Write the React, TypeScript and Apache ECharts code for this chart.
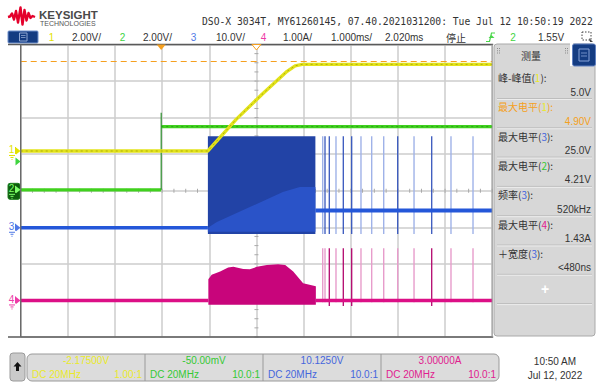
import React, { useEffect, useRef } from "react";
import * as echarts from "echarts";

// ---------- scope settings ----------
const TIME_PER_DIV = 1.0; // ms / div
const TIME_DELAY = 2.02; // ms at screen centre
const X_DIVS = 10;
const Y_DIVS = 8;

const chNames = ["1", "2", "3", "4"];
const chUnitsPerDiv = [2.0, 2.0, 10.0, 1.0];
const chOffsets = [-2.175, -0.05, 10.125, 3.0];
const chScaleLabels = ["2.00V/", "2.00V/", "10.0V/", "1.00A/"];
const chOffsetLabels = ["-2.17500V", "-50.00mV", "10.1250V", "3.00000A"];
const chCouplingLabels = ["DC 20MHz", "DC 20MHz", "DC 20MHz", "DC 20MHz"];
const chProbeLabels = ["1.00:1", "10.0:1", "10.0:1", "10.0:1"];

const headerLabel = "DSO-X 3034T, MY61260145, 07.40.2021031200: Tue Jul 12 10:50:19 2022";
const timebaseLabel = "1.000ms/";
const delayLabel = "2.020ms";
const runStateLabel = "停止";
const trigSourceLabel = "2";
const trigLevel = 1.55;
const trigLevelLabel = "1.55V";
const clockLines = ["10:50 AM", "Jul 12, 2022"];

// ---------- measurements ----------
const measNames = ["峰-峰值", "最大电平", "最大电平", "最大电平", "频率", "最大电平", "＋宽度"];
const measChannels = [1, 1, 3, 2, 3, 4, 3];
const measValues = ["5.0V", "4.90V", "25.0V", "4.21V", "520kHz", "1.43A", "<480ns"];
const ch1MaxCursor = 4.9;

// ---------- traces (time in ms, values in V / A) ----------
// CH1 yellow
const ch1Time = [-2.98, 0.99, 1.59, 2.14, 2.67, 2.84, 2.99, 7.02];
const ch1Volt = [0, 0, 1.73, 3.1, 4.36, 4.66, 4.74, 4.74];
// CH2 green
const ch2LowTime = [-2.98, 0.0];
const ch2LowVolt = [0, 0];
const ch2HighTime = [0.0, 7.02];
const ch2HighVolt = [3.46, 3.46];
const ch2EdgePeak = 4.21;
// CH3 blue
const ch3BeforeTime = [-2.98, 0.99];
const ch3BeforeVolt = [0, 0];
const ch3AfterTime = [3.27, 7.02];
const ch3AfterVolt = [4.75, 4.75];
const ch3BurstStart = 0.99;
const ch3BurstEnd = 3.27;
const ch3BurstHigh = 25.0;
const ch3BurstLow = -1.7;
const ch3AvgTime = [0.99, 1.18, 1.88, 2.58, 2.94, 3.27];
const ch3AvgVolt = [0, 1.57, 5.67, 9.78, 11.15, 11.15];
const ch3SpikeStrong = [3.474, 3.565, 3.862, 4.04, 5.016, 5.737];
const ch3SpikeFaint = [3.425, 3.707, 4.237, 4.464, 4.719, 5.362, 6.146, 6.613];
// CH4 magenta
const ch4BeforeTime = [-2.98, 1.0];
const ch4BeforeAmp = [0, 0];
const ch4AfterTime = [3.28, 7.02];
const ch4AfterAmp = [0, 0];
const ch4EnvTime = [1.0, 1.07, 1.25, 1.42, 1.53, 1.74, 1.88, 2.03, 2.24, 2.48, 2.63, 2.8, 3.01, 3.28];
const ch4EnvAmp = [0.58, 0.7, 0.79, 0.9, 0.92, 0.86, 0.85, 0.92, 0.97, 0.99, 0.97, 0.79, 0.47, 0.39];
const ch4EnvLow = -0.12;
const ch4SpikePeak = 1.43;
const ch4SpikeStrong = [3.565, 3.862, 4.04, 5.737];
const ch4SpikeFaint = [3.425, 3.474, 3.707, 4.237, 4.464, 4.719, 5.016, 5.362, 6.146, 6.613];

// ---------- colours ----------
const TRACE = ["#e3e31b", "#40d11e", "#2457d9", "#dc0f86"];
const LABEL = ["#e2e200", "#3fd43f", "#4f78e6", "#ee3aa6"];
const LABEL_ON_GRAY = ["#eaea2a", "#34c934", "#4466dd", "#e0208f"];
const ORANGE = "#f5a020";
const FONT = '"Liberation Sans", Arial, sans-serif';
const CJK = '"Noto Sans CJK SC", "Liberation Sans", sans-serif';

const xd = (t: number) => (t - TIME_DELAY) / TIME_PER_DIV + X_DIVS / 2;
const yd = (ch: number, v: number) => (v - chOffsets[ch]) / chUnitsPerDiv[ch];
const pts = (ch: number, ts: number[], vs: number[]) => ts.map((t, i) => [xd(t), yd(ch, vs[i])]);

function lineSeries(data: number[][], color: string, width: number, extra: any = {}) {
  return {
    type: "line",
    data,
    showSymbol: false,
    silent: true,
    animation: false,
    lineStyle: { color, width, cap: "butt", join: "round" },
    ...extra,
  };
}

function polySeries(points: () => number[][], color: string) {
  return {
    type: "custom",
    silent: true,
    clip: true,
    data: [[0, 0]],
    renderItem: (_p: any, api: any) => ({
      type: "polygon",
      shape: { points: points().map((p) => api.coord(p)) },
      style: { fill: color },
    }),
  };
}

function spikeSeries(ch: number, times: number[], top: number, bottom: number, color: string, width: number) {
  return {
    type: "custom",
    silent: true,
    clip: true,
    data: times.map((t) => [xd(t), 0]),
    renderItem: (_p: any, api: any) => {
      const x = api.value(0);
      const a = api.coord([x, yd(ch, top)]);
      const b = api.coord([x, yd(ch, bottom)]);
      return {
        type: "line",
        shape: { x1: a[0], y1: a[1], x2: b[0], y2: b[1] },
        style: { stroke: color, lineWidth: width },
      };
    },
  };
}

function buildOption(): any {
  const axisBase = {
    type: "value",
    axisLine: { show: false },
    axisTick: { show: false },
    axisLabel: { show: false },
    splitLine: { show: true, lineStyle: { color: "#cdcdcd", width: 1.5 } },
  };
  const centerTicks = {
    type: "custom",
    silent: true,
    data: [[0, 0]],
    renderItem: (_p: any, api: any) => {
      const children: any[] = [];
      for (let i = 0; i <= X_DIVS * 4; i++) {
        const [x, y] = api.coord([i / 4, 0]);
        children.push({ type: "line", shape: { x1: x, y1: y - 2, x2: x, y2: y + 2 }, style: { stroke: "#a9a9a9", lineWidth: 1 } });
      }
      for (let j = 0; j <= Y_DIVS * 4; j++) {
        const [x, y] = api.coord([X_DIVS / 2, -Y_DIVS / 2 + j / 4]);
        children.push({ type: "line", shape: { x1: x - 2, y1: y, x2: x + 2, y2: y }, style: { stroke: "#a9a9a9", lineWidth: 1 } });
      }
      return { type: "group", children };
    },
  };

  const burstRect = () => [
    [xd(ch3BurstStart), yd(2, ch3BurstHigh)],
    [xd(ch3BurstEnd), yd(2, ch3BurstHigh)],
    [xd(ch3BurstEnd), yd(2, ch3BurstLow)],
    [xd(ch3BurstStart), yd(2, ch3BurstLow)],
  ];
  const burstAvg = () => [
    ...pts(2, ch3AvgTime, ch3AvgVolt),
    [xd(ch3AvgTime[ch3AvgTime.length - 1]), yd(2, ch3BurstLow + 0.6)],
    [xd(ch3AvgTime[0]), yd(2, ch3BurstLow + 0.6)],
  ];
  const ch4Env = () => [
    [xd(ch4EnvTime[0]), yd(3, ch4EnvLow)],
    ...pts(3, ch4EnvTime, ch4EnvAmp),
    [xd(ch4EnvTime[ch4EnvTime.length - 1]), yd(3, ch4EnvLow)],
  ];

  return {
    animation: false,
    backgroundColor: "#ffffff",
    grid: { left: 20.7, top: 44.5, width: 471.5, height: 292.5, show: false },
    xAxis: { ...axisBase, min: 0, max: X_DIVS, interval: 1 },
    yAxis: { ...axisBase, min: -Y_DIVS / 2, max: Y_DIVS / 2, interval: 1 },
    series: [
      centerTicks,
      // CH4
      polySeries(ch4Env, "#c8057b"),
      lineSeries(pts(3, ch4BeforeTime, ch4BeforeAmp), TRACE[3], 3.5),
      lineSeries(pts(3, ch4AfterTime, ch4AfterAmp), TRACE[3], 3.5),
      spikeSeries(3, ch4SpikeFaint, ch4SpikePeak, -0.05, "#e79ccb", 1.4),
      spikeSeries(3, ch4SpikeStrong, ch4SpikePeak, -0.15, "#b3066d", 1.3),
      // CH3
      polySeries(burstRect, "#2243a6"),
      polySeries(burstAvg, "#2a53c8"),
      lineSeries(pts(2, ch3BeforeTime, ch3BeforeVolt), TRACE[2], 3.5),
      lineSeries(pts(2, ch3AfterTime, ch3AfterVolt), TRACE[2], 4),
      spikeSeries(2, ch3SpikeFaint, ch3BurstHigh, ch3BurstLow, "#9fb2e8", 1.4),
      spikeSeries(2, ch3SpikeStrong, ch3BurstHigh, ch3BurstLow, "#3656bd", 1.3),
      // CH2
      lineSeries(pts(1, ch2LowTime, ch2LowVolt), TRACE[1], 3.2),
      lineSeries(pts(1, ch2HighTime, ch2HighVolt), TRACE[1], 3.2),
      lineSeries(pts(1, ch2HighTime, ch2HighVolt), "rgba(30,120,20,0.55)", 1, { lineStyle: { color: "rgba(30,120,20,0.55)", width: 1, type: [2, 3] } }),
      lineSeries([[xd(0), yd(1, 0)], [xd(0), yd(1, ch2EdgePeak)]], "#2f8f2f", 1.2),
      // CH1
      lineSeries(pts(0, ch1Time, ch1Volt), TRACE[0], 3.4, {
        markLine: {
          silent: true,
          symbol: "none",
          label: { show: false },
          animation: false,
          lineStyle: { color: ORANGE, width: 1.2, type: [6, 4] },
          data: [{ yAxis: yd(0, ch1MaxCursor) }],
        },
      }),
      lineSeries(pts(0, ch1Time, ch1Volt), "rgba(120,120,0,0.5)", 1, { lineStyle: { color: "rgba(120,120,0,0.5)", width: 1, type: [2, 3] } }),
    ],
  };
}

function txt(text: string, x: number, y: number, o: any = {}) {
  return {
    type: "text",
    z: 100,
    style: {
      text,
      x,
      y,
      fill: o.fill ?? "#333333",
      fontSize: o.size ?? 10,
      fontFamily: o.family ?? FONT,
      fontWeight: o.weight ?? "normal",
      textAlign: o.align ?? "left",
      verticalAlign: "middle",
      ...(o.extra || {}),
    },
  };
}
const ln = (x1: number, y1: number, x2: number, y2: number, stroke: string, w = 1, extra: any = {}) => ({
  type: "line",
  z: 100,
  shape: { x1, y1, x2, y2 },
  style: { stroke, lineWidth: w, ...extra },
});
const rc = (x: number, y: number, w: number, h: number, fill: string, stroke?: string, r = 0, z = 90) => ({
  type: "rect",
  z,
  shape: { x, y, width: w, height: h, r },
  style: { fill, stroke: stroke ?? "none", lineWidth: 1 },
});
const pg = (points: number[][], fill: string, stroke = "none", z = 100) => ({
  type: "polygon",
  z,
  shape: { points },
  style: { fill, stroke, lineWidth: 1 },
});

function buildGraphic(chart: any) {
  const px = (x: number, y: number) => chart.convertToPixel({ gridIndex: 0 }, [x, y]);
  const [gl, gt] = px(0, Y_DIVS / 2);
  const [gr, gb] = px(X_DIVS, -Y_DIVS / 2);
  const els: any[] = [];

  // ---- header ----
  els.push({
    type: "polyline",
    z: 100,
    shape: {
      points: [[8, 17], [10, 16.5], [12, 13.5], [14, 19.5], [16, 11], [18, 22.5], [20.5, 7.5], [22.5, 24.5], [24.5, 10], [26.5, 20.5], [28.5, 13], [30.5, 18], [32.5, 16], [35, 17]],
    },
    style: { stroke: "#e4002b", lineWidth: 2.4, fill: "none", lineJoin: "round" },
  });
  els.push(txt("KEYSIGHT", 39, 14.5, { size: 11.5, weight: "bold", fill: "#4a4a4a" }));
  els.push(txt("TECHNOLOGIES", 40, 23, { size: 7, fill: "#555555" }));
  els.push(txt(headerLabel, 202, 21.5, { size: 9.7, family: '"DejaVu Sans Mono", monospace', fill: "#333333" }));

  // ---- channel row ----
  els.push(rc(8, 31, 30, 12, "#143c82", "#6f90cc", 1, 95));
  els.push(rc(19.5, 33, 7.5, 8, "none", "#8fa7d3", 0, 100));
  els.push(ln(21, 35.5, 25.5, 35.5, "#8fa7d3", 0.8));
  els.push(ln(21, 37.5, 25.5, 37.5, "#8fa7d3", 0.8));
  const numX = [51.5, 122.5, 193.5, 263.5];
  const scaleX = [72, 143, 216, 283];
  for (let i = 0; i < 4; i++) {
    els.push(txt(chNames[i], numX[i], 37, { fill: LABEL[i], align: "center" }));
    els.push(txt(chScaleLabels[i], scaleX[i], 37));
  }
  els.push(txt(timebaseLabel, 331, 37));
  els.push(txt(delayLabel, 385, 37));
  els.push(txt(runStateLabel, 446, 37, { family: CJK }));
  els.push({
    type: "polyline",
    z: 100,
    shape: { points: [[486, 41.5], [489.5, 41.5], [491.5, 33], [495, 33]] },
    style: { stroke: "#49d649", lineWidth: 1.2, fill: "none" },
  });
  els.push(pg([[488.5, 38], [494.5, 38], [491.5, 35]], "#49d649"));
  els.push(txt(trigSourceLabel, 513, 37, { fill: LABEL[1], align: "center" }));
  els.push(txt(trigLevelLabel, 538, 37));
  els.push({
    type: "rect",
    z: 100,
    shape: { x: 582, y: 32, width: 9, height: 8 },
    style: { fill: "none", stroke: "#444", lineWidth: 1, lineDash: [1.5, 1.5] },
  });
  els.push(pg([[589, 38], [593, 42], [590, 42]], "#444"));

  // ---- frame ----
  els.push(ln(8, gt, gr + 1, gt, "#5a5a5a", 1.4));
  els.push(ln(8, gb, gr + 1, gb, "#5a5a5a", 1.4));
  els.push(ln(gl, gt, gl, gb, "#6a6a6a", 1.4));
  els.push(ln(gr, gt, gr, gb, "#9a9a9a", 1));

  // trigger-time & delay markers
  const trigX = px(xd(0), 0)[0];
  const cenX = px(xd(TIME_DELAY), 0)[0];
  els.push(pg([[trigX - 4.5, gt], [trigX + 4.5, gt], [trigX, gt + 5.5]], ORANGE));
  els.push(pg([[cenX - 4.5, gt], [cenX + 4.5, gt], [cenX, gt + 5.5]], "#ffffff", ORANGE));

  // ground markers
  for (let c = 0; c < 4; c++) {
    const gy = px(0, yd(c, 0))[1];
    if (c === 1) {
      els.push(rc(8, gy - 6.5, 12, 16, "#0d5c0d", "#1f7f1f", 2, 99));
    }
    const col = c === 1 ? "#7dff6a" : LABEL[c];
    els.push(txt(chNames[c], 11.5, gy - 1, { fill: col, align: "center", size: 10 }));
    els.push(ln(15.5, gy - 4, 15.5, gy + 3, col, 1));
    els.push(pg([[16, gy - 3.5], [20.5, gy], [16, gy + 3.5]], col));
    els.push(ln(9, gy + 4.5, 15, gy + 4.5, col, 1));
    els.push(ln(10.5, gy + 6.5, 13.5, gy + 6.5, col, 1));
    els.push(ln(11.5, gy + 8.5, 12.5, gy + 8.5, col, 1));
  }
  const ty = px(0, yd(1, trigLevel))[1];
  els.push(pg([[15.5, ty - 4], [20.5, ty], [15.5, ty + 4]], "#3fd43f"));

  // ---- measurement panel ----
  els.push(rc(494, 44, 101, 292, "#d7d7d7", "#a9a9a9", 3, 80));
  els.push(rc(570, 43, 3, 23, "#ffffff", undefined, 0, 85));
  els.push(rc(572.5, 44, 23, 22, "#143c82", "#6080c0", 2, 86));
  els.push(rc(579, 49, 10, 12, "none", "#86a2d8", 0, 100));
  els.push(ln(581, 53, 587, 53, "#86a2d8", 0.8));
  els.push(ln(581, 56, 587, 56, "#86a2d8", 0.8));
  for (const gx of [497, 565]) {
    for (let k = 0; k < 3; k++) {
      els.push(rc(gx, 48 + k * 2.2, 1, 1, "#8c8c8c", undefined, 0, 100));
      els.push(rc(gx + 2, 48 + k * 2.2, 1, 1, "#8c8c8c", undefined, 0, 100));
    }
  }
  els.push(txt("测量", 531, 55, { family: CJK, align: "center" }));
  for (let i = 0; i < measNames.length; i++) {
    const ly = 77.5 + 29.3 * i;
    const hi = i === 1;
    const base = hi ? ORANGE : "#333333";
    const chIdx = measChannels[i] - 1;
    els.push({
      type: "text",
      z: 100,
      style: {
        text: `{a|${measNames[i]}(}{c|${measChannels[i]}}{a|):}`,
        x: 498,
        y: ly,
        verticalAlign: "middle",
        textAlign: "left",
        fontSize: 10,
        fontFamily: CJK,
        fill: base,
        rich: {
          a: { fill: base, color: base, fontSize: 10, fontFamily: CJK },
          c: { fill: LABEL_ON_GRAY[chIdx], color: LABEL_ON_GRAY[chIdx], fontSize: 10, fontFamily: CJK },
        },
      },
    });
    els.push(txt(measValues[i], 591, ly + 14.5, { align: "right", fill: base }));
    els.push(ln(497, ly + 21, 592, ly + 21, "#bdbdbd", 1));
    els.push(ln(497, ly + 22, 592, ly + 22, "#ececec", 1));
  }
  els.push(txt("+", 545, 289, { fill: "#ffffff", size: 14, weight: "bold", align: "center" }));
  els.push(ln(497, 303.6, 592, 303.6, "#bdbdbd", 1));
  els.push(ln(497, 304.6, 592, 304.6, "#ececec", 1));

  // ---- bottom bar ----
  els.push(rc(10, 353, 15, 28, "#cacaca", "#9a9a9a", 3, 90));
  els.push(pg([[17.5, 362], [13.5, 366.5], [16, 366.5], [16, 371], [19, 371], [19, 366.5], [21.5, 366.5]], "#111111"));
  els.push(rc(27, 354, 472, 27, "#dcdcdc", "#9a9a9a", 5, 90));
  for (let i = 0; i < 4; i++) {
    const x0 = 27 + 118 * i;
    if (i > 0) els.push(ln(x0, 354, x0, 381, "#9a9a9a", 1));
    els.push(txt(chOffsetLabels[i], x0 + 59, 360.5, { fill: LABEL_ON_GRAY[i], align: "center" }));
    els.push(txt(chCouplingLabels[i], x0 + 5, 374, { fill: LABEL_ON_GRAY[i] }));
    els.push(txt(chProbeLabels[i], x0 + 115, 374, { fill: LABEL_ON_GRAY[i], align: "right" }));
  }
  els.push(txt(clockLines[0], 555, 361, { align: "center" }));
  els.push(txt(clockLines[1], 555, 375, { align: "center" }));

  return els;
}

export default function App() {
  const ref = useRef<HTMLDivElement>(null);
  useEffect(() => {
    document.body.style.margin = "0";
    const chart = echarts.init(ref.current!, null, { renderer: "svg" });
    chart.setOption(buildOption());
    chart.setOption({ graphic: { elements: buildGraphic(chart) } });
    return () => chart.dispose();
  }, []);
  return <div ref={ref} style={{ width: 596, height: 384, background: "#ffffff" }} />;
}
